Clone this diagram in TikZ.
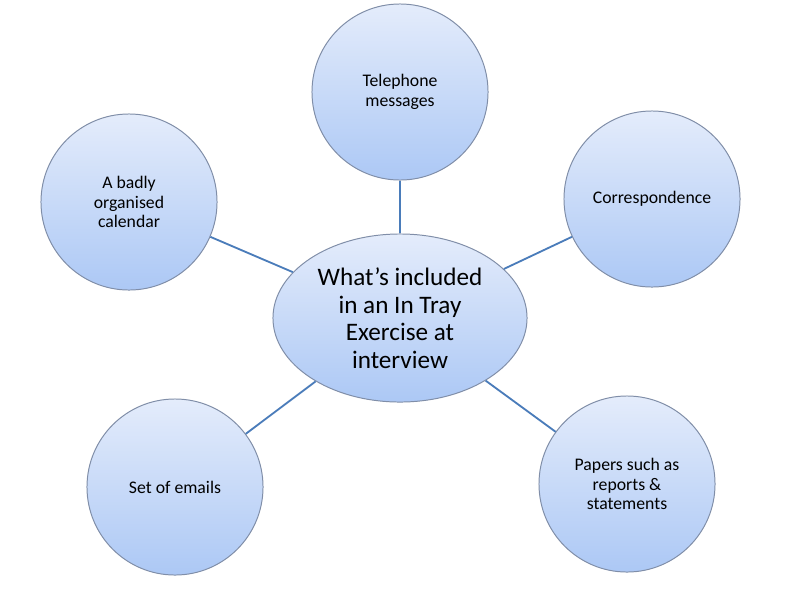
\documentclass[tikz,border=0pt]{standalone}
\usepackage{fontspec}
\setmainfont{Carlito}
\usepackage{xcolor}
\usepackage{tikz}
\usetikzlibrary{shapes.geometric}
\definecolor{bubtop}{RGB}{228,236,251}
\definecolor{bubbot}{RGB}{172,200,245}
\definecolor{bubline}{RGB}{128,142,168}
\definecolor{linkblue}{RGB}{74,124,186}
\tikzset{
  topic/.style={circle, draw=bubline, line width=0.7pt, top color=bubtop, bottom color=bubbot,
    minimum size=4.4cm, inner sep=0pt, align=center,
    font=\fontsize{12.6}{13.8}\selectfont},
  hub/.style={ellipse, draw=bubline, line width=0.7pt, top color=bubtop, bottom color=bubbot,
    minimum width=6.35cm, minimum height=4.2cm, inner sep=0pt, align=center,
    font=\fontsize{17.9}{19.6}\selectfont},
  link/.style={draw=linkblue, line width=1.3pt},
}

\begin{document}
\begin{tikzpicture}[x=0.025cm, y=-0.025cm]
  \fill[white] (0,0) rectangle (800,593);
  \useasboundingbox (0,0) rectangle (800,593);
  % outer topics
  \node[topic] (tel) at (400,92) {Telephone\\messages};
  \node[topic] (corr) at (652,199) {Correspondence};
  \node[topic] (cal) at (129,202) {A badly\\organised\\calendar};
  \node[topic] (mail) at (175,487) {Set of emails};
  \node[topic] (pap) at (627,484) {Papers such as\\reports \&\\statements};
  % centre
  \node[hub] (main) at (400,318) {What’s included\\in an In Tray\\Exercise at\\interview};
  % links
  \draw[link] (main) -- (tel);
  \draw[link] (main) -- (corr);
  \draw[link] (main) -- (cal);
  \draw[link] (main) -- (mail);
  \draw[link] (main) -- (pap);
\end{tikzpicture}
\end{document}
